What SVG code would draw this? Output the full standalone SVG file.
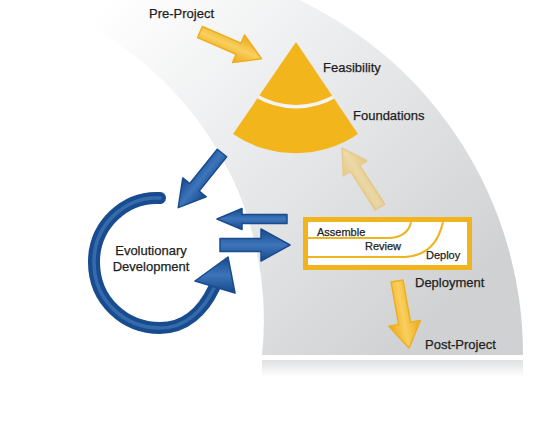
<svg xmlns="http://www.w3.org/2000/svg" width="550" height="426" viewBox="0 0 550 426">
<defs>
<linearGradient id="bg" gradientUnits="userSpaceOnUse" x1="110" y1="0" x2="430" y2="330">
<stop offset="0" stop-color="#ffffff"/>
<stop offset="0.35" stop-color="#eeeff0"/>
<stop offset="1" stop-color="#cfd1d3"/>
</linearGradient>
<linearGradient id="refl" x1="0" y1="0" x2="0" y2="1">
<stop offset="0" stop-color="#dfe0e1"/>
<stop offset="1" stop-color="#ffffff"/>
</linearGradient>
<linearGradient id="yel" x1="0" y1="0" x2="0" y2="1">
<stop offset="0" stop-color="#eba91b"/>
<stop offset="0.5" stop-color="#f9cf5e"/>
<stop offset="1" stop-color="#eba91b"/>
</linearGradient>
<linearGradient id="blu" x1="0" y1="0" x2="0" y2="1">
<stop offset="0" stop-color="#164888"/>
<stop offset="0.5" stop-color="#3d75bb"/>
<stop offset="1" stop-color="#164888"/>
</linearGradient>
<clipPath id="pyrClip"><path d="M296,42 L233,134 A111,111 0 0 0 358,134 Z"/></clipPath>
<style>
.t{font-family:"Liberation Sans",Arial,sans-serif;font-size:13px;fill:#1e1e1e;stroke:#1e1e1e;stroke-width:0.25}
.s{font-size:11px}
.ya{fill:url(#yel);stroke:#eeae1e;stroke-width:1.5;stroke-linejoin:round}
.ba{fill:url(#blu);stroke:#184c8e;stroke-width:1.5;stroke-linejoin:round}
.ln{fill:none;stroke:#f0b320;stroke-width:2}
</style>
</defs>

<g id="background">
<path d="M26,0 L299,0 A392,392 0 0 1 523,355 L262,355 A334,334 0 0 0 26,0 Z" fill="url(#bg)"/>
<rect x="262" y="360" width="261" height="17" fill="url(#refl)"/>
</g>

<g id="connectors">
<path class="ya" d="M0,-6 L42,-6 L42,-15 L67,0 L42,15 L42,6 L0,6 Z" transform="translate(200,32) rotate(23.5)"/>
<path class="ya" d="M0,-5.5 L46,-5.5 L46,-14 L70,0 L46,14 L46,5.5 L0,5.5 Z" transform="translate(380,207) rotate(-122.8)" opacity="0.45"/>
<path class="ya" d="M0,-6 L43,-6 L43,-16 L68,0 L43,16 L43,6 L0,6 Z" transform="translate(397,281) rotate(79.8)"/>
<path class="ba" d="M0,-6 L44,-6 L44,-15 L70,0 L44,15 L44,6 L0,6 Z" transform="translate(222,153) rotate(128.7)"/>
<path class="ba" d="M0,-4.5 L45,-4.5 L45,-10.5 L70,0 L45,10.5 L45,4.5 L0,4.5 Z" transform="translate(287,219) rotate(180)"/>
<path class="ba" d="M0,-6.5 L41,-6.5 L41,-16 L70,0 L41,16 L41,6.5 L0,6.5 Z" transform="translate(220,245)"/>
<g id="cycle">
<path d="M160,198 C125,196 94,225 94,262 C94,301 125,328 160,328 C185,328 203,311 214,288" fill="none" stroke="#184c8e" stroke-width="12" stroke-linecap="round"/>
<path d="M160,198 C125,196 94,225 94,262 C94,301 125,328 160,328 C185,328 203,311 214,288" fill="none" stroke="#4a80c2" stroke-width="3.5" stroke-linecap="round" opacity="0.6"/>
<path class="ba" d="M228,257 L195,281 L235,293 Z"/>
</g>
</g>

<g id="pre-project"><text class="t" x="149" y="18">Pre-Project</text></g>

<g id="pyramid">
<path d="M296,42 L233,134 A111,111 0 0 0 358,134 Z" fill="#f2b61c"/>
<path d="M255,95 A78,78 0 0 0 337,95" fill="none" stroke="#f4f4f4" stroke-width="3.5" clip-path="url(#pyrClip)"/>
<text class="t" x="323" y="72">Feasibility</text>
<text class="t" x="353" y="120">Foundations</text>
</g>

<g id="evolutionary">
<text class="t" x="151" y="255" text-anchor="middle">Evolutionary</text>
<text class="t" x="151" y="270.5" text-anchor="middle">Development</text>
</g>

<g id="deployment">
<rect x="305.5" y="219.5" width="164" height="48" fill="#ffffff" stroke="#f2b41c" stroke-width="5"/>
<path class="ln" d="M308,238 L390,238 C402,237 409,232 411,222"/>
<path class="ln" d="M308,257 L405,257 C424,256 438,245 443,222"/>
<text class="t s" x="317" y="236">Assemble</text>
<text class="t s" x="365" y="250">Review</text>
<text class="t s" x="426" y="259">Deploy</text>
<text class="t" x="415" y="287">Deployment</text>
</g>

<g id="post-project"><text class="t" x="425" y="349">Post-Project</text></g>
</svg>
